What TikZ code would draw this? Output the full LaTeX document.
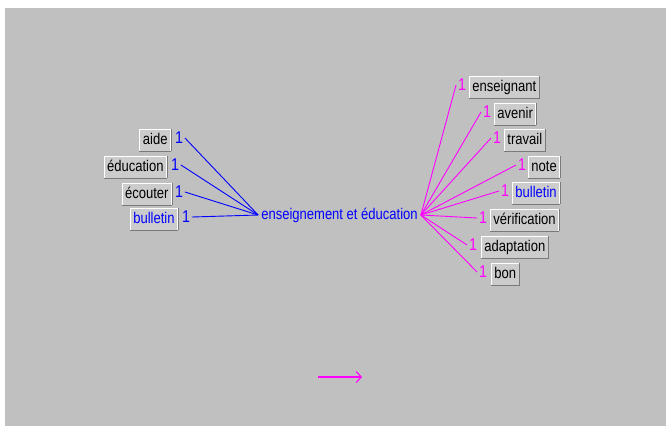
\documentclass[tikz,border=0pt]{standalone}
\usepackage{fontspec}
\setmainfont{Liberation Sans}[FakeStretch=0.84]
\usetikzlibrary{arrows.meta}
\definecolor{winback}{HTML}{C0C0C0}
\definecolor{btnface}{HTML}{CCCCCC}
\definecolor{btnshadow}{HTML}{7A7A7A}
\definecolor{linkblue}{HTML}{0000FF}
\definecolor{linkpink}{HTML}{FF00FF}

\begin{document}
\begin{tikzpicture}[x=1pt,y=-1pt,font=\fontsize{15.5}{18}\selectfont]

    \tikzset{
      word/.style={
        fill=btnface,
        draw=white,
        line width=0.9pt,
        inner xsep=3pt,
        inner ysep=4pt,
        text height=11pt,
        text depth=3pt,
        append after command={
          (\tikzlastnode.south west) edge[shadowline] (\tikzlastnode.south east)
          (\tikzlastnode.south east) edge[shadowline] (\tikzlastnode.north east)
        },
      },
      shadowline/.style={draw=btnshadow, line width=0.9pt},
      count/.style={
        font=\fontsize{17}{18}\selectfont,
        inner sep=0pt,
        outer sep=2pt,
        text height=12pt,
        text depth=2pt,
      },
      bluelink/.style={draw=linkblue, line width=0.9pt},
      pinklink/.style={draw=linkpink, line width=0.9pt},
    }
    \useasboundingbox (0,0) rectangle (666,426);
    \fill[winback] (5,8) rectangle (666,426);

    \node[text=linkblue, inner xsep=3pt, inner ysep=0pt] (theme) at (339.5,215) {enseignement et éducation};

    % left side
    \node[word, anchor=east] (aide) at (171,140) {aide};
    \node[count, text=linkblue] (aide1) at (179,138) {1};
    \node[word, anchor=east] (educ) at (167,167) {éducation};
    \node[count, text=linkblue] (educ1) at (175,165) {1};
    \node[word, anchor=east] (ecout) at (172,194) {écouter};
    \node[count, text=linkblue] (ecout1) at (179,192) {1};
    \node[word, anchor=east, text=linkblue] (bullL) at (178,219) {bulletin};
    \node[count, text=linkblue] (bullL1) at (186,217) {1};

    \draw[bluelink] (aide1.east) -- (theme.west);
    \draw[bluelink] (educ1.east) -- (theme.west);
    \draw[bluelink] (ecout1.east) -- (theme.west);
    \draw[bluelink] (bullL1.east) -- (theme.west);

    % right side
    \node[count, text=linkpink] (ens1) at (462,85) {1};
    \node[word, anchor=west] (ens) at (469,87) {enseignant};
    \node[count, text=linkpink] (aven1) at (487,112) {1};
    \node[word, anchor=west] (aven) at (494,114) {avenir};
    \node[count, text=linkpink] (trav1) at (497,138) {1};
    \node[word, anchor=west] (trav) at (504,140) {travail};
    \node[count, text=linkpink] (note1) at (522,165) {1};
    \node[word, anchor=west] (note) at (528,167) {note};
    \node[count, text=linkpink] (bullR1) at (505,191) {1};
    \node[word, anchor=west, text=linkblue] (bullR) at (512,193) {bulletin};
    \node[count, text=linkpink] (verif1) at (483,218) {1};
    \node[word, anchor=west] (verif) at (490,220) {vérification};
    \node[count, text=linkpink] (adapt1) at (473,245) {1};
    \node[word, anchor=west] (adapt) at (481,247) {adaptation};
    \node[count, text=linkpink] (bon1) at (483,272) {1};
    \node[word, anchor=west] (bon) at (491,274) {bon};

    \draw[pinklink] (theme.east) -- (ens1.west);
    \draw[pinklink] (theme.east) -- (aven1.west);
    \draw[pinklink] (theme.east) -- (trav1.west);
    \draw[pinklink] (theme.east) -- (note1.west);
    \draw[pinklink] (theme.east) -- (bullR1.west);
    \draw[pinklink] (theme.east) -- (verif1.west);
    \draw[pinklink] (theme.east) -- (adapt1.west);
    \draw[pinklink] (theme.east) -- (bon1.west);

    % arrow at the bottom
    \coordinate (tail) at (318,377);
    \coordinate (head) at (362,377);
    \draw[pinklink, line width=1.1pt, -{Straight Barb[length=5pt,width=11pt]}] (tail) -- (head);

\end{tikzpicture}
\end{document}
